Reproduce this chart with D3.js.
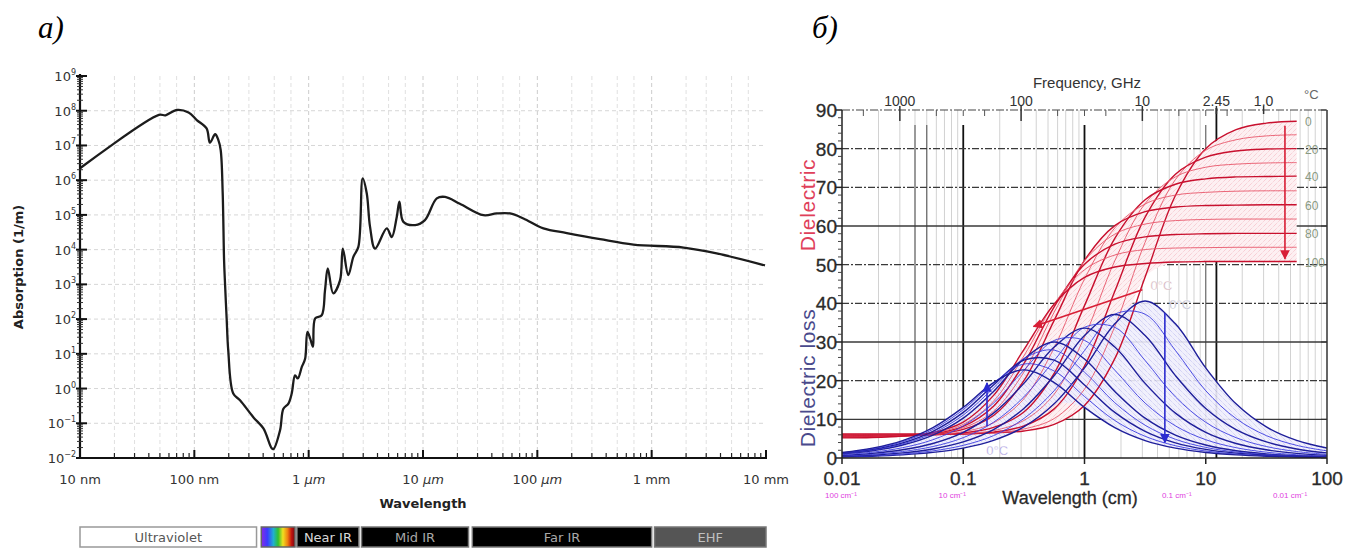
<!DOCTYPE html>
<html><head><meta charset="utf-8">
<script src="https://cdn.jsdelivr.net/npm/d3@7"></script>
<style>body{margin:0;background:#fff}svg{display:block}</style>
</head><body>
<svg id="c" width="1351" height="548"></svg>
<script>
// ================= DATA =================
// Panel a: absorption spectrum of water
const absWavelengthNm = [10,49,56,70,89,105,128,137,152,162,170,177,182,185,192,198,219,251,328,402,475,491,562,601,665,711,760,803,871,931,975,1030,1090,1140,1300,1390,1470,1640,1880,1990,2220,2460,2720,2970,3220,3440,3810,4820,5330,5900,6220,6740,8540,10400,13200,15600,21000,33800,44000,57800,75600,113000,181000,354000,693000,1.9e6,3.7e6,9.8e6];
const absPerMetre = [2.2e6,7.6e7,7.4e7,1.05e8,8.9e7,5.4e7,3.1e7,1.2e7,2.1e7,1.45e7,7.4e6,4.3e5,5.0e3,1.3e3,93,12.6,0.72,0.46,0.15,0.071,0.019,0.018,0.063,0.26,0.37,0.72,2.4,1.95,4.2,7.2,43,28,16,105,129,680,2.9e3,550,1300,1.07e4,1860,6200,1.2e4,1.12e6,4.2e5,4.6e4,1.07e4,4.1e4,2.3e4,8.9e4,2.4e5,6.3e4,5.1e4,7.1e4,3.0e5,3.3e5,2.1e5,9.8e4,1.1e5,1.1e5,7.9e4,4.1e4,3.0e4,2.0e4,1.4e4,1.15e4,7.8e3,3.5e3];
const absYTickExp = [-2,-1,0,1,2,3,4,5,6,7,8,9];
const absXTicksNm = [10,100,1e3,1e4,1e5,1e6,1e7];
const absXTickNum = ["10","100","1","10","100","1","10"];
const absXTickUnit = ["nm","nm","µm","µm","µm","mm","mm"];
const bandNames = ["Ultraviolet","","Near IR","Mid IR","Far IR","EHF"];
const bandStartNm = [10,385,790,2900,27000,1.06e6];
const bandEndNm = [350,760,2750,25000,1.0e6,1e7];

// Panel b: dielectric constant / loss of water vs wavelength
const temperaturesC = [0,10,20,30,40,50,60,70,80,90,100];
const wavelengthCm = [0.01,0.01778,0.03162,0.05623,0.1,0.1778,0.3162,0.5623,1,1.778,3.162,5.623,10,17.78,31.62,56.23,100];
const dielectricEndCm = 57;
const dielectricConst = [
  [6.2,6.2,6.2,6.2,6.3,6.5,7.0,8.7,13.6,25.7,46.8,67.9,80.0,84.9,86.6,87.1,87.3],
  [6.1,6.1,6.1,6.1,6.2,6.5,7.5,10.2,17.8,34.0,55.8,72.0,79.6,82.3,83.3,83.6,83.7],
  [6.0,6.0,6.0,6.1,6.2,6.7,8.3,12.7,23.8,43.1,62.3,73.4,77.8,79.4,79.9,80.0,80.1],
  [5.9,5.9,5.9,6.0,6.3,7.1,9.7,16.5,31.3,51.0,65.8,72.7,75.2,76.0,76.3,76.4,76.4],
  [5.8,5.8,5.9,6.0,6.5,7.9,11.9,21.9,39.4,56.8,66.8,70.8,72.2,72.7,72.8,72.9,72.9],
  [5.7,5.7,5.8,6.1,6.8,9.1,15.3,28.5,46.3,59.5,65.7,68.0,68.7,69.0,69.1,69.1,69.1],
  [5.6,5.7,5.8,6.2,7.4,11.0,20.0,35.6,51.1,60.1,63.7,64.9,65.3,65.4,65.5,65.5,65.5],
  [5.5,5.6,5.7,6.2,7.8,12.1,22.2,37.7,51.0,57.9,60.5,61.4,61.7,61.8,61.8,61.8,61.8],
  [5.4,5.5,5.7,6.3,8.2,13.4,24.4,39.1,50.1,55.3,57.2,57.8,58.0,58.1,58.1,58.1,58.1],
  [5.3,5.4,5.7,6.4,8.7,14.7,26.4,39.9,48.7,52.5,53.9,54.3,54.4,54.5,54.5,54.5,54.5],
  [5.2,5.3,5.7,6.6,9.3,16.2,28.0,39.8,46.7,49.4,50.3,50.7,50.8,50.8,50.8,50.8,50.8]
];
const dielectricLoss = [
  [0.26,0.45,0.81,1.45,2.57,4.56,8.04,14.0,23.3,34.7,40.6,34.7,23.3,14.0,8.04,4.56,2.57],
  [0.33,0.58,1.03,1.84,3.27,5.79,10.2,17.4,27.8,37.2,37.2,27.8,17.4,10.2,5.79,3.27,1.84],
  [0.41,0.74,1.32,2.34,4.16,7.34,12.8,21.3,31.7,37.1,31.7,21.3,12.8,7.34,4.16,2.34,1.32],
  [0.53,0.94,1.67,2.97,5.26,9.24,15.8,25.2,33.8,33.8,25.2,15.8,9.24,5.26,2.97,1.67,0.94],
  [0.67,1.19,2.12,3.76,6.64,11.6,19.3,28.7,33.6,28.7,19.3,11.6,6.64,3.76,2.12,1.19,0.67],
  [0.84,1.50,2.67,4.73,8.31,14.2,22.7,30.4,30.4,22.7,14.2,8.31,4.73,2.67,1.50,0.84,0.48],
  [1.07,1.89,3.36,5.93,10.3,17.2,25.6,30.0,25.6,17.2,10.3,5.93,3.36,1.89,1.07,0.60,0.34],
  [1.15,2.05,3.64,6.42,11.1,18.1,25.7,27.9,22.2,14.3,8.47,4.84,2.74,1.54,0.87,0.49,0.27],
  [1.25,2.22,3.93,6.91,11.8,18.9,25.3,25.3,18.9,11.8,6.91,3.93,2.22,1.25,0.70,0.40,0.22],
  [1.35,2.39,4.23,7.40,12.5,19.4,24.3,22.5,15.9,9.69,5.61,3.18,1.80,1.01,0.57,0.32,0.18],
  [1.44,2.56,4.51,7.86,13.1,19.5,22.8,19.5,13.1,7.86,4.51,2.56,1.44,0.81,0.46,0.26,0.15]
];
const labelledTemps = [0,20,40,60,80,100];
const freqTicksGHz = [1000,100,10,2.45,1.0];
const freqTickLabels = ["1000","100","10","2.45","1.0"];
const freqMinorGHz = [2000,500,300,200,50,30,20,5,3,2];
const wlTicksCm = [0.01,0.1,1,10,100];
const wlTickLabels = ["0.01","0.1","1","10","100"];
const wavenumberLabels = ["100 cm⁻¹","10 cm⁻¹","0.1 cm⁻¹","0.01 cm⁻¹"];
const wavenumberAtCm = [0.01,0.1,10,100];
const epsTicks = [0,10,20,30,40,50,60,70,80,90];

// ================= DRAW =================
const svg = d3.select("#c");
const defs = svg.append("defs");
const FA = "DejaVu Sans, Verdana, sans-serif";
const FB = "Liberation Sans, Arial, sans-serif";

svg.append("text").attr("x",38).attr("y",38).attr("font-family","Liberation Serif, Times New Roman, serif")
  .attr("font-style","italic").attr("font-size",31).text("a)");
svg.append("text").attr("x",812).attr("y",38).attr("font-family","Liberation Serif, Times New Roman, serif")
  .attr("font-style","italic").attr("font-size",31).text("б)");

// ---------- Panel a ----------
const xA = d3.scaleLog().domain([10,1e7]).range([80,766]);
const yA = d3.scaleLog().domain([1e-2,1e9]).range([458,76]);
const gA = svg.append("g");
const gridA = gA.append("g").attr("stroke-dasharray","4,3").attr("stroke-width",1);
const decA = [10,100,1e3,1e4,1e5,1e6];
decA.forEach(d=>{
  [2,3,5,7].forEach(m=>gridA.append("line").attr("x1",xA(d*m)).attr("x2",xA(d*m)).attr("y1",76).attr("y2",458).attr("stroke","#e0e0e0"));
  if(d>10) gridA.append("line").attr("x1",xA(d)).attr("x2",xA(d)).attr("y1",76).attr("y2",458).attr("stroke","#cccccc");
});
absYTickExp.forEach(e=>{
  if(e>-2 && e<9) gridA.append("line").attr("x1",80).attr("x2",766).attr("y1",yA(Math.pow(10,e))).attr("y2",yA(Math.pow(10,e))).attr("stroke","#d6d6d6");
});

const absData = absWavelengthNm.map((w,i)=>({w, a:absPerMetre[i]}));
gA.append("path").datum(absData)
  .attr("d", d3.line().x(d=>xA(d.w)).y(d=>yA(d.a)).curve(d3.curveCatmullRom.alpha(0.5)))
  .attr("fill","none").attr("stroke","#1c1c1c").attr("stroke-width",2.3).attr("stroke-linejoin","round");

// axes a
gA.append("line").attr("x1",80).attr("x2",80).attr("y1",74).attr("y2",459).attr("stroke","#111").attr("stroke-width",2.2);
gA.append("line").attr("x1",79).attr("x2",767).attr("y1",458).attr("y2",458).attr("stroke","#111").attr("stroke-width",2.2);
absYTickExp.forEach(e=>{
  const v = Math.pow(10,e);
  gA.append("line").attr("x1",76).attr("x2",87).attr("y1",yA(v)).attr("y2",yA(v)).attr("stroke","#111").attr("stroke-width",2);
  if(e<9) d3.range(2,10).forEach(m=>gA.append("line").attr("x1",77).attr("x2",83).attr("y1",yA(v*m)).attr("y2",yA(v*m)).attr("stroke","#333").attr("stroke-width",1));
  const t = gA.append("text").attr("x",76).attr("y",yA(v)+5).attr("text-anchor","end")
    .attr("font-family",FA).attr("font-size",13).attr("fill","#333");
  t.append("tspan").text("10");
  t.append("tspan").attr("dy",-6).attr("font-size",8).text(e<0?"−"+(-e):String(e));
});
absXTicksNm.forEach((v,i)=>{
  gA.append("line").attr("x1",xA(v)).attr("x2",xA(v)).attr("y1",458).attr("y2",450).attr("stroke","#111").attr("stroke-width",2);
  if(v<1e7) d3.range(2,10).forEach(m=>gA.append("line").attr("x1",xA(v*m)).attr("x2",xA(v*m)).attr("y1",458).attr("y2",453).attr("stroke","#222").attr("stroke-width",1.2));
  const t = gA.append("text").attr("x",xA(v)).attr("y",484).attr("text-anchor","middle")
    .attr("font-family",FA).attr("font-size",13).attr("fill","#333");
  t.append("tspan").text(absXTickNum[i]+" ");
  const u = t.append("tspan").text(absXTickUnit[i]);
  if(absXTickUnit[i]==="µm") u.attr("font-style","italic");
});
gA.append("text").attr("x",423).attr("y",508).attr("text-anchor","middle").attr("font-family",FA)
  .attr("font-weight","bold").attr("font-size",13).attr("fill","#222").text("Wavelength");
gA.append("text").attr("transform","translate(23,267) rotate(-90)").attr("text-anchor","middle").attr("font-family",FA)
  .attr("font-weight","bold").attr("font-size",13).attr("fill","#222").text("Absorption (1/m)");

// spectral bands
const vis = defs.append("linearGradient").attr("id","vis");
[["0%","#8a2be2"],["18%","#3a3aff"],["36%","#20b0d0"],["50%","#30c030"],["64%","#f0e020"],["78%","#f08010"],["90%","#c01010"],["100%","#701010"]]
  .forEach(s=>vis.append("stop").attr("offset",s[0]).attr("stop-color",s[1]));
const bandFill = ["#fff","url(#vis)","#000","#000","#000","#555"];
const bandStroke = ["#999","#666","#777","#777","#777","#777"];
const bandText = ["#555","#fff","#d8d8d8","#a8a8a8","#a8a8a8","#c0c0c0"];
bandNames.forEach((n,i)=>{
  const x0 = xA(bandStartNm[i]), x1 = xA(bandEndNm[i]);
  gA.append("rect").attr("x",x0).attr("y",527).attr("width",x1-x0).attr("height",20)
    .attr("fill",bandFill[i]).attr("stroke",bandStroke[i]).attr("stroke-width",1.5);
  if(n) gA.append("text").attr("x",(x0+x1)/2).attr("y",542).attr("text-anchor","middle").attr("font-family",FA)
    .attr("font-size",13).attr("fill",bandText[i]).text(n);
});

// ---------- Panel b ----------
const xB = d3.scaleLog().domain([0.01,100]).range([842,1327]);
const yB = d3.scaleLinear().domain([0,90]).range([458,110]);
const gB = svg.append("g");
defs.append("clipPath").attr("id","clipB").append("rect").attr("x",842).attr("y",110).attr("width",485).attr("height",348);

// vertical grid
[0.01,0.1,1,10].forEach(d=>d3.range(2,10).forEach(m=>{
  gB.append("line").attr("x1",xB(d*m)).attr("x2",xB(d*m)).attr("y1",110).attr("y2",458).attr("stroke","#d2d2d2").attr("stroke-width",1);
}));
[0.04,0.05,10].forEach(v=>gB.append("line").attr("x1",xB(v)).attr("x2",xB(v)).attr("y1",125).attr("y2",458).attr("stroke","#666").attr("stroke-width",1.2));
[0.1,1].forEach(v=>gB.append("line").attr("x1",xB(v)).attr("x2",xB(v)).attr("y1",125).attr("y2",458).attr("stroke","#111").attr("stroke-width",1.8));
gB.append("line").attr("x1",xB(30/2.45)).attr("x2",xB(30/2.45)).attr("y1",108).attr("y2",458).attr("stroke","#111").attr("stroke-width",1.8);
// horizontal grid
epsTicks.filter(v=>v>0&&v<90).forEach(v=>{
  const solid = (v===10||v===30||v===60);
  gB.append("line").attr("x1",842).attr("x2",1327).attr("y1",yB(v)).attr("y2",yB(v))
    .attr("stroke","#3a3a3a").attr("stroke-width",solid?1.4:1.1).attr("stroke-dasharray",solid?null:"7,2,2,2");
});

// envelopes (hatched regions)
const cB = gB.append("g").attr("clip-path","url(#clipB)");
const redBand = wavelengthCm.map((w,k)=>[w,d3.min(dielectricConst,r=>r[k]),d3.max(dielectricConst,r=>r[k])]).filter(p=>p[0]<=dielectricEndCm);
const blueBand = wavelengthCm.map((w,k)=>[w,d3.min(dielectricLoss,r=>r[k]),d3.max(dielectricLoss,r=>r[k])]);
const areaB = d3.area().x(d=>xB(d[0])).y0(d=>yB(d[1])).y1(d=>yB(d[2])).curve(d3.curveCatmullRom.alpha(0.5));
const patR = defs.append("pattern").attr("id","hatchR").attr("width",5).attr("height",5).attr("patternUnits","userSpaceOnUse");
patR.append("rect").attr("width",5).attr("height",5).attr("fill","#fdf0f2");
patR.append("path").attr("d","M0,5L5,0").attr("stroke","#f0a0ac").attr("stroke-width",0.6).attr("stroke-dasharray","1,1");
const patB = defs.append("pattern").attr("id","hatchB").attr("width",5).attr("height",5).attr("patternUnits","userSpaceOnUse");
patB.append("rect").attr("width",5).attr("height",5).attr("fill","#efeefc");
patB.append("path").attr("d","M0,0L5,5").attr("stroke","#9c9ce8").attr("stroke-width",0.6).attr("stroke-dasharray","1,1");
cB.append("path").datum(redBand).attr("d",areaB).attr("fill","url(#hatchR)");
cB.append("path").datum(blueBand).attr("d",areaB).attr("fill","url(#hatchB)").attr("opacity",0.9);

const lineB = d3.line().x(d=>xB(d[0])).y(d=>yB(d[1])).curve(d3.curveCatmullRom.alpha(0.5));
temperaturesC.forEach((T,i)=>{
  const pts = wavelengthCm.map((w,k)=>[w,dielectricConst[i][k]]).filter(p=>p[0]<=dielectricEndCm);
  const major = T%20===0;
  cB.append("path").datum(pts).attr("d",lineB).attr("fill","none")
    .attr("stroke",major?"#c8102e":"#e8566a").attr("stroke-width",major?1.4:0.9);
});
temperaturesC.forEach((T,i)=>{
  const pts = wavelengthCm.map((w,k)=>[w,dielectricLoss[i][k]]);
  const major = T%20===0;
  cB.append("path").datum(pts).attr("d",lineB).attr("fill","none")
    .attr("stroke",major?"#1e1e9a":"#3c3ce0").attr("stroke-width",major?1.4:0.9);
});

// arrows
function arrowHead(id,color){
  defs.append("marker").attr("id",id).attr("viewBox","0 0 10 10").attr("refX",9).attr("refY",5)
    .attr("markerWidth",6).attr("markerHeight",6).attr("orient","auto")
    .append("path").attr("d","M0,0L10,5L0,10z").attr("fill",color);
}
arrowHead("ahR","#d81e36"); arrowHead("ahB","#2a2ad0");
const arrows = [
  {a:[45,85.9],b:[45,51.5],c:"#d81e36",m:"ahR"},
  {a:[3.0,43.5],b:[0.38,34],c:"#d81e36",m:"ahR"},
  {a:[0.157,8.2],b:[0.157,19.4],c:"#2a2ad0",m:"ahB"},
  {a:[4.6,37.5],b:[4.6,4.0],c:"#2a2ad0",m:"ahB"}
];
arrows.forEach(r=>gB.append("line").attr("x1",xB(r.a[0])).attr("y1",yB(r.a[1])).attr("x2",xB(r.b[0])).attr("y2",yB(r.b[1]))
  .attr("stroke",r.c).attr("stroke-width",1.6).attr("marker-end",`url(#${r.m})`));
[[0.155,0.9,"#9a8ad8"],[3.5,43.5,"#c8a0aa"],[5.0,38.5,"#a8a8c0"]].forEach(p=>{
  gB.append("text").attr("x",xB(p[0])).attr("y",yB(p[1])).attr("font-family",FB).attr("font-size",13)
    .attr("fill",p[2]).attr("stroke","#fff").attr("stroke-width",0.4).text("0°C");
});

// axes b
gB.append("line").attr("x1",842).attr("x2",1327).attr("y1",110).attr("y2",110).attr("stroke","#444").attr("stroke-width",1.2).attr("stroke-dasharray","8,2,2,2");
gB.append("line").attr("x1",842).attr("x2",842).attr("y1",110).attr("y2",458).attr("stroke","#222").attr("stroke-width",1.5);
gB.append("line").attr("x1",1327).attr("x2",1327).attr("y1",110).attr("y2",458).attr("stroke","#333").attr("stroke-width",1.5);
gB.append("line").attr("x1",842).attr("x2",1327).attr("y1",458).attr("y2",458).attr("stroke","#222").attr("stroke-width",1.5);
epsTicks.forEach(v=>{
  gB.append("line").attr("x1",836).attr("x2",842).attr("y1",yB(v)).attr("y2",yB(v)).attr("stroke","#222").attr("stroke-width",1.5);
  gB.append("line").attr("x1",1321).attr("x2",1327).attr("y1",yB(v)).attr("y2",yB(v)).attr("stroke","#333");
  if(v<90) [2,4,6,8].forEach(m=>gB.append("line").attr("x1",838).attr("x2",842).attr("y1",yB(v+m)).attr("y2",yB(v+m)).attr("stroke","#444"));
  gB.append("text").attr("x",837).attr("y",yB(v)+7).attr("text-anchor","end").attr("font-family",FB)
    .attr("font-size",19).attr("fill","#2a2a2a").attr("stroke","#2a2a2a").attr("stroke-width",0.3).text(v);
});
wlTicksCm.forEach((v,i)=>{
  gB.append("line").attr("x1",xB(v)).attr("x2",xB(v)).attr("y1",458).attr("y2",464).attr("stroke","#222").attr("stroke-width",1.5);
  gB.append("text").attr("x",xB(v)).attr("y",485).attr("text-anchor","middle").attr("font-family",FB)
    .attr("font-size",19).attr("fill","#2a2a2a").attr("stroke","#2a2a2a").attr("stroke-width",0.3).text(wlTickLabels[i]);
});
const wnDx = [-1,-11,-29,-37];
wavenumberLabels.forEach((l,i)=>gB.append("text").attr("x",xB(wavenumberAtCm[i])+wnDx[i]).attr("y",498).attr("text-anchor","middle")
  .attr("font-family",FB).attr("font-size",8).attr("fill","#e040e0").text(l));
gB.append("text").attr("x",1070).attr("y",504).attr("text-anchor","middle").attr("font-family",FB)
  .attr("font-size",18).attr("fill","#2a2a2a").attr("stroke","#2a2a2a").attr("stroke-width",0.3).text("Wavelength (cm)");

// top frequency axis
freqTicksGHz.forEach((f,i)=>{
  const x = xB(30/f);
  gB.append("line").attr("x1",x).attr("x2",x).attr("y1",106).attr("y2",i<3?121:114).attr("stroke","#333").attr("stroke-width",1.5);
  gB.append("text").attr("x",x).attr("y",106).attr("text-anchor","middle").attr("font-family",FB)
    .attr("font-size",14).attr("fill","#333").text(freqTickLabels[i]);
});
freqMinorGHz.forEach(f=>gB.append("line").attr("x1",xB(30/f)).attr("x2",xB(30/f)).attr("y1",110).attr("y2",116).attr("stroke","#555"));
gB.append("text").attr("x",1087).attr("y",88).attr("text-anchor","middle").attr("font-family",FB)
  .attr("font-size",15).attr("fill","#333").text("Frequency, GHz");
gB.append("text").attr("x",1304).attr("y",99).attr("font-family",FB).attr("font-size",13).attr("fill","#666").text("°C");

// temperature labels at right
labelledTemps.forEach(T=>{
  const i = temperaturesC.indexOf(T);
  const pts = wavelengthCm.map((w,k)=>[w,dielectricConst[i][k]]).filter(p=>p[0]<=dielectricEndCm);
  gB.append("text").attr("x",1305).attr("y",yB(pts[pts.length-1][1])+5).attr("font-family",FB)
    .attr("font-size",12).attr("fill","#8a9a82").text(T);
});

// axis titles b
gB.append("text").attr("transform","translate(815,205) rotate(-90)").attr("text-anchor","middle").attr("font-family",FB)
  .attr("font-size",21).attr("letter-spacing",0.6).attr("fill","#e0405a").text("Dielectric");
gB.append("text").attr("transform","translate(815,378) rotate(-90)").attr("text-anchor","middle").attr("font-family",FB)
  .attr("font-size",21).attr("letter-spacing",0.6).attr("fill","#4a4a8c").text("Dielectric loss");
</script>
</body></html>
